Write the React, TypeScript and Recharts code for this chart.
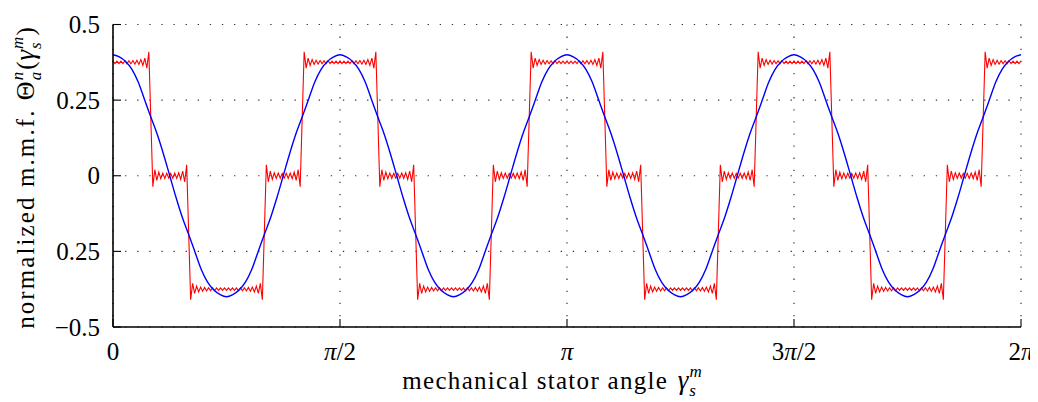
import React from 'react';
import { LineChart, Line, XAxis, YAxis, CartesianGrid } from 'recharts';

const FONT = '"Liberation Serif", "DejaVu Serif", serif';

// mechanical angle in degrees, 360 = 2π
const xTicks = [0, 90, 180, 270, 360];
const xTickLabels = ['0', 'π/2', 'π', '3π/2', '2π'];
const yTicks = [-0.5, -0.25, 0, 0.25, 0.5];
const yTickLabels = ['−0.5', '0.25', '0', '0.25', '0.5'];

// one pole period (90°) of the stepped mmf, sampled every 90/114 degrees
const redStep = 90 / 114;
const redPeriod = [
  0.379, 0.371, 0.379, 0.371, 0.379, 0.371, 0.38, 0.37, 0.38, 0.37, 0.381, 0.369, 0.382, 0.368, 0.384, 0.365, 0.389, 0.356, 0.41,
  0.1875,
  -0.036, 0.02, -0.015, 0.012, -0.01, 0.009, -0.009, 0.008, -0.008, 0.008, -0.008, 0.009, -0.009, 0.01, -0.012, 0.015, -0.02, 0.036,
  -0.1875,
  -0.41, -0.356, -0.389, -0.365, -0.384, -0.368, -0.382, -0.369, -0.381, -0.37, -0.38, -0.37, -0.38, -0.371, -0.379, -0.371, -0.379, -0.371,
  -0.379,
  -0.371, -0.379, -0.371, -0.379, -0.371, -0.38, -0.37, -0.38, -0.37, -0.381, -0.369, -0.382, -0.368, -0.384, -0.365, -0.389, -0.356, -0.41,
  -0.1875,
  0.036, -0.02, 0.015, -0.012, 0.01, -0.009, 0.009, -0.008, 0.008, -0.008, 0.008, -0.009, 0.009, -0.01, 0.012, -0.015, 0.02, -0.036,
  0.1875,
  0.41, 0.356, 0.389, 0.365, 0.384, 0.368, 0.382, 0.369, 0.381, 0.37, 0.38, 0.37, 0.38, 0.371, 0.379, 0.371, 0.379, 0.371,
];

// fundamental-like curve, one period sampled every 2.5 degrees
const blueStep = 2.5;
const bluePeriod = [
  0.4, 0.393, 0.378, 0.352, 0.31, 0.252, 0.194, 0.138, 0.072, 0.0,
  -0.072, -0.138, -0.194, -0.252, -0.31, -0.352, -0.378, -0.393,
  -0.4, -0.393, -0.378, -0.352, -0.31, -0.252, -0.194, -0.138, -0.072, 0.0,
  0.072, 0.138, 0.194, 0.252, 0.31, 0.352, 0.378, 0.393,
];

const periods = 4;

const buildSeries = (values: number[], step: number) =>
  Array.from({ length: values.length * periods + 1 }, (_, i) => ({
    x: i * step,
    y: values[i % values.length],
  }));

const redData = buildSeries(redPeriod, redStep);
const blueData = buildSeries(bluePeriod, blueStep);

const piText = (label: string) => {
  const parts = label.split('π');
  return parts.map((p, i) => (
    <React.Fragment key={i}>
      {p}
      {i < parts.length - 1 && <tspan fontStyle="italic">π</tspan>}
    </React.Fragment>
  ));
};

const LeftTick = (props: any) => {
  const { x, y, payload } = props;
  const label = yTickLabels[yTicks.indexOf(payload.value)];
  return (
    <g>
      <line x1={x} y1={y} x2={x + 8} y2={y} stroke="#000" strokeWidth={1.1} />
      <text x={x - 13} y={y + 8.5} textAnchor="end" fontFamily={FONT} fontSize={25} fill="#000">
        {label}
      </text>
    </g>
  );
};

const RightTick = (props: any) => {
  const { x, y } = props;
  return <line x1={x} y1={y} x2={x - 8} y2={y} stroke="#000" strokeWidth={1.1} />;
};

const BottomTick = (props: any) => {
  const { x, y, payload } = props;
  const label = xTickLabels[xTicks.indexOf(payload.value)];
  return (
    <g>
      <line x1={x} y1={y} x2={x} y2={y - 8} stroke="#000" strokeWidth={1.1} />
      <text x={x} y={y + 33} textAnchor="middle" fontFamily={FONT} fontSize={25} fill="#000">
        {piText(label)}
      </text>
    </g>
  );
};

const TopTick = (props: any) => {
  const { x, y } = props;
  return <line x1={x} y1={y} x2={x} y2={y + 8} stroke="#000" strokeWidth={1.1} />;
};

const XTitle = () => (
  <text x={552} y={389} textAnchor="middle" fontFamily={FONT} fontSize={25} fill="#000">
    <tspan letterSpacing={1.3}>{'mechanical stator angle '}</tspan>
    <tspan fontStyle="italic" fontSize={27} dx={2}>γ</tspan>
    <tspan fontStyle="italic" fontSize={17} dx={1} dy={-12}>m</tspan>
    <tspan fontStyle="italic" fontSize={17} dx={-12.5} dy={19}>s</tspan>
  </text>
);

const YTitle = () => (
  <text
    x={34}
    y={178}
    transform="rotate(-90 34 178)"
    textAnchor="middle"
    fontFamily={FONT}
    fontSize={25}
    fill="#000"
  >
    <tspan letterSpacing={2.1}>{'normalized m.m.f. '}</tspan>
    <tspan fontSize={26}>Θ</tspan>
    <tspan fontStyle="italic" fontSize={17} dx={1} dy={-11}>n</tspan>
    <tspan fontStyle="italic" fontSize={17} dx={-8.5} dy={18}>a</tspan>
    <tspan dx={2} dy={-7}>(</tspan>
    <tspan fontStyle="italic" fontSize={27} dx={1}>γ</tspan>
    <tspan fontStyle="italic" fontSize={17} dx={1} dy={-11}>m</tspan>
    <tspan fontStyle="italic" fontSize={17} dx={-12.5} dy={18}>s</tspan>
    <tspan dx={7} dy={-7}>)</tspan>
  </text>
);

export default function App() {
  return (
    <div style={{ margin: '-8px 0 0 -8px', width: 1038, height: 402 }}>
      <LineChart width={1038} height={402} margin={{ top: 24.5, right: 17, left: 0, bottom: 0 }}>
        <CartesianGrid stroke="#333" strokeWidth={1.2} strokeDasharray="1.3 10.8" />
        <XAxis
          type="number"
          dataKey="x"
          domain={[0, 360]}
          ticks={xTicks}
          interval={0}
          height={75}
          allowDataOverflow
          axisLine={{ stroke: '#000', strokeWidth: 1.6 }}
          tickLine={false}
          tickSize={0}
          tickMargin={0}
          tick={BottomTick}
          label={<XTitle />}
        />
        <XAxis
          xAxisId="top"
          orientation="top"
          type="number"
          dataKey="x"
          domain={[0, 360]}
          ticks={xTicks}
          interval={0}
          height={0}
          allowDataOverflow
          axisLine={{ stroke: '#000', strokeWidth: 1.6 }}
          tickLine={false}
          tickSize={0}
          tickMargin={0}
          tick={TopTick}
        />
        <YAxis
          type="number"
          domain={[-0.5, 0.5]}
          ticks={yTicks}
          interval={0}
          width={113}
          allowDataOverflow
          axisLine={{ stroke: '#000', strokeWidth: 1.6 }}
          tickLine={false}
          tickSize={0}
          tickMargin={0}
          tick={LeftTick}
          label={<YTitle />}
        />
        <YAxis
          yAxisId="right"
          orientation="right"
          type="number"
          domain={[-0.5, 0.5]}
          ticks={yTicks}
          interval={0}
          width={0}
          allowDataOverflow
          axisLine={{ stroke: '#000', strokeWidth: 1.6 }}
          tickLine={false}
          tickSize={0}
          tickMargin={0}
          tick={RightTick}
        />
        <Line
          data={redData}
          dataKey="y"
          type="linear"
          stroke="#ff0000"
          strokeWidth={1.1}
          dot={false}
          activeDot={false}
          isAnimationActive={false}
        />
        <Line
          data={blueData}
          dataKey="y"
          type="monotone"
          stroke="#0000ff"
          strokeWidth={1.4}
          dot={false}
          activeDot={false}
          isAnimationActive={false}
        />
      </LineChart>
    </div>
  );
}
